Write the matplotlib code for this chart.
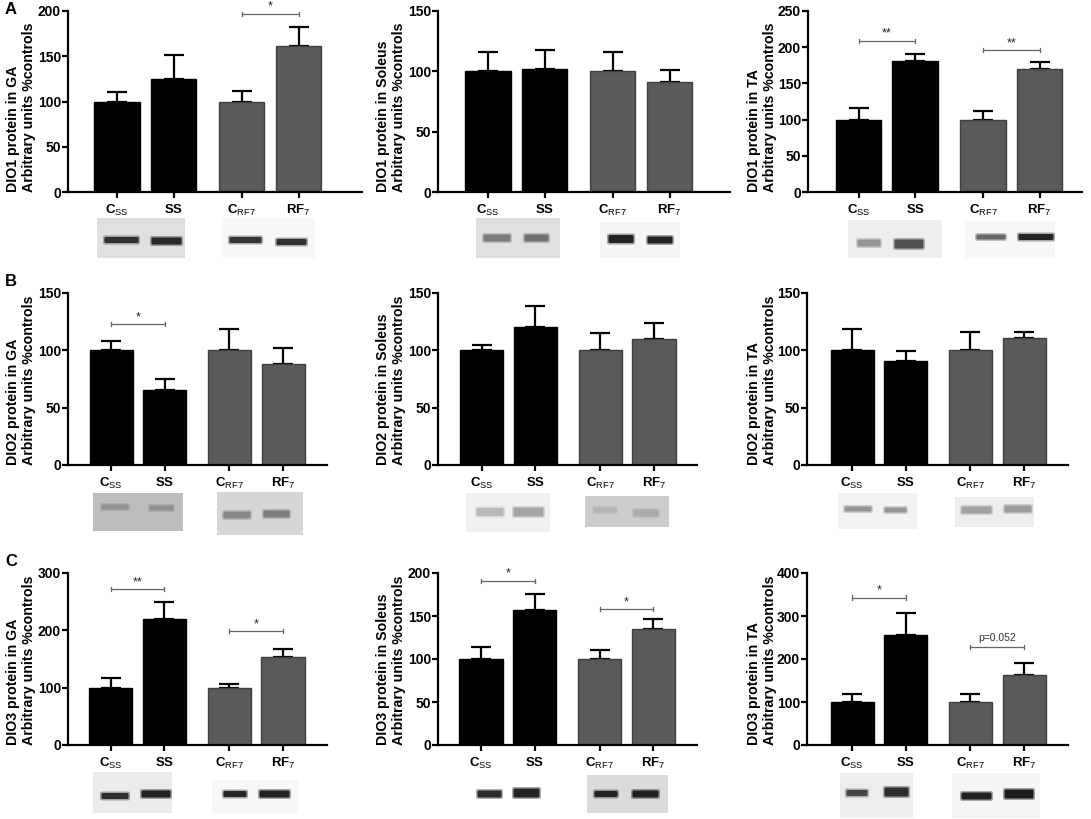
import matplotlib
matplotlib.use("Agg")
import matplotlib.pyplot as plt
from matplotlib.patches import Rectangle, FancyBboxPatch

plt.rcParams['font.family'] = ['Liberation Sans', 'DejaVu Sans']
plt.rcParams['mathtext.fontset'] = 'custom'
plt.rcParams['mathtext.rm'] = 'Liberation Sans'
plt.rcParams['mathtext.bf'] = 'Liberation Sans:bold'
plt.rcParams['mathtext.it'] = 'Liberation Sans:italic'

# ---------------- data ----------------
groups = ["Css", "SS", "CRF7", "RF7"]
tick_labels = [r"$\mathbf{C}_{\mathrm{SS}}$", r"$\mathbf{SS}$",
               r"$\mathbf{C}_{\mathrm{RF7}}$", r"$\mathbf{RF}_{\mathrm{7}}$"]

ylabels = [
    "DIO1 protein in GA", "DIO1 protein in Soleus", "DIO1 protein in TA",
    "DIO2 protein in GA", "DIO2 protein in Soleus", "DIO2 protein in TA",
    "DIO3 protein in GA", "DIO3 protein in Soleus", "DIO3 protein in TA",
]
ymax = [200, 150, 250, 150, 150, 150, 300, 200, 400]
ystep = [50, 50, 50, 50, 50, 50, 100, 50, 100]

# means (% of control)
dio1_ga = [100, 125, 100, 161]
dio1_sol = [100, 102, 100, 91]
dio1_ta = [100, 181, 100, 170]
dio2_ga = [100, 65, 100, 88]
dio2_sol = [100, 120, 100, 110]
dio2_ta = [100, 91, 100, 111]
dio3_ga = [100, 219, 100, 153]
dio3_sol = [100, 157, 100, 135]
dio3_ta = [100, 256, 100, 162]

# upper end of error bar (mean + SEM)
dio1_ga_top = [110, 151, 112, 182]
dio1_sol_top = [116, 118, 116, 101]
dio1_ta_top = [116, 191, 112, 179]
dio2_ga_top = [108, 75, 119, 102]
dio2_sol_top = [105, 139, 115, 124]
dio2_ta_top = [119, 99, 116, 116]
dio3_ga_top = [117, 250, 106, 168]
dio3_sol_top = [114, 176, 110, 146]
dio3_ta_top = [119, 308, 119, 191]

means = [dio1_ga, dio1_sol, dio1_ta, dio2_ga, dio2_sol, dio2_ta, dio3_ga, dio3_sol, dio3_ta]
tops = [dio1_ga_top, dio1_sol_top, dio1_ta_top, dio2_ga_top, dio2_sol_top, dio2_ta_top,
        dio3_ga_top, dio3_sol_top, dio3_ta_top]

# significance annotations: (panel, from group, to group, height, label)
sig_panel = [0, 2, 2, 3, 6, 6, 7, 7, 8, 8]
sig_from = [2, 0, 2, 0, 0, 2, 0, 2, 0, 2]
sig_to = [3, 1, 3, 1, 1, 3, 1, 3, 1, 3]
sig_y = [197, 209, 196, 123, 272, 199, 191, 158, 343, 228]
sig_text = ["*", "**", "**", "*", "**", "*", "*", "*", "*", "p=0.052"]

# ---------------- layout (pixels) ----------------
W, H = 1091, 819
# left, right, top(ymax), bottom(0) of each axes, and first / last bar centre
layout = [
    (68, 362, 11, 192, 117, 298.5),
    (438, 730, 11, 192, 488, 669.5),
    (808, 1082, 11, 192, 858.5, 1039.5),
    (68, 327, 293, 465, 111, 283),
    (438, 697, 293, 465, 481.5, 654),
    (807, 1068, 293, 465, 852, 1024),
    (68, 327, 573, 745, 110.5, 283),
    (438, 697, 573, 745, 481, 653.5),
    (807, 1068, 573, 745, 852, 1024),
]
label_x = [21, 391, 762] * 3
xpos = [0, 1, 2.2, 3.2]
colors = ["#000000", "#000000", "#5a5a5a", "#5a5a5a"]
edges = ["#000000", "#000000", "#404040", "#404040"]

fig = plt.figure(figsize=(W / 100, H / 100), dpi=100)

# overlay for blots
over = fig.add_axes([0, 0, 1, 1], zorder=0)
over.set_xlim(0, W)
over.set_ylim(H, 0)
over.axis("off")

# blot specs: (x0, x1, y0, y1, background grey, [(lane x0, lane x1, band y, band h, band grey)])
blots = [
    (97, 185, 218, 258, 0.88, [(103, 140, 240, 5, 0.12), (150, 183, 241, 6, 0.08)]),
    (222, 315, 218, 258, 0.97, [(228, 263, 240, 5, 0.12), (275, 308, 242, 5, 0.10)]),
    (476, 560, 218, 258, 0.88, [(482, 512, 238, 6, 0.45), (523, 550, 238, 6, 0.40)]),
    (600, 680, 222, 258, 0.96, [(607, 635, 239, 7, 0.05), (646, 674, 240, 6, 0.06)]),
    (848, 942, 220, 258, 0.93, [(856, 882, 243, 6, 0.55), (893, 925, 244, 8, 0.25)]),
    (965, 1055, 221, 258, 0.97, [(975, 1007, 237, 4, 0.35), (1017, 1055, 237, 5, 0.05)]),
    (93, 183, 493, 531, 0.74, [(100, 130, 507, 4, 0.55), (148, 175, 508, 4, 0.55)]),
    (217, 303, 492, 535, 0.84, [(222, 252, 515, 6, 0.50), (262, 291, 514, 6, 0.45)]),
    (466, 550, 493, 532, 0.94, [(475, 505, 512, 7, 0.70), (512, 545, 512, 8, 0.62)]),
    (585, 669, 496, 527, 0.80, [(592, 618, 510, 5, 0.70), (632, 660, 513, 6, 0.66)]),
    (838, 917, 493, 529, 0.95, [(843, 873, 509, 4, 0.55), (883, 908, 510, 4, 0.55)]),
    (955, 1034, 497, 527, 0.93, [(960, 993, 510, 6, 0.60), (1003, 1033, 509, 6, 0.58)]),
    (93, 172, 772, 813, 0.92, [(100, 130, 796, 5, 0.10), (140, 172, 794, 6, 0.05)]),
    (212, 298, 780, 813, 0.97, [(222, 248, 794, 5, 0.06), (258, 291, 794, 6, 0.04)]),
    (470, 545, 785, 805, 1.00, [(476, 503, 794, 6, 0.08), (512, 541, 793, 8, 0.05)]),
    (587, 668, 775, 813, 0.86, [(593, 619, 794, 5, 0.05), (631, 660, 794, 6, 0.04)]),
    (840, 913, 773, 818, 0.93, [(845, 869, 793, 5, 0.20), (883, 910, 792, 8, 0.10)]),
    (952, 1040, 773, 818, 0.96, [(960, 993, 796, 6, 0.04), (1003, 1035, 794, 8, 0.02)]),
]
for x0, x1, y0, y1, bg, bands in blots:
    over.add_patch(Rectangle((x0, y0), x1 - x0, y1 - y0, facecolor=str(bg), edgecolor="none"))
    for lx0, lx1, yc, bh, g in bands:
        # soft halo then core band
        over.add_patch(FancyBboxPatch((lx0 + 1, yc - bh / 2 - 1), lx1 - lx0 - 2, bh + 2,
                                      boxstyle="round,pad=1,rounding_size=2",
                                      facecolor=str(g), edgecolor="none", alpha=0.35))
        over.add_patch(FancyBboxPatch((lx0 + 2, yc - bh / 2), lx1 - lx0 - 4, bh,
                                      boxstyle="round,pad=0.5,rounding_size=1.5",
                                      facecolor=str(g), edgecolor="none", alpha=0.85))

axes = []
for i in range(9):
    left, right, top, bottom, c0, c3 = layout[i]
    ax = fig.add_axes([left / W, 1 - bottom / H, (right - left) / W, (bottom - top) / H], zorder=2)
    ax.patch.set_alpha(0)
    unit = (c3 - c0) / 3.2
    ax.set_xlim((left - c0) / unit, (right - c0) / unit)
    ax.set_ylim(0, ymax[i])
    m = means[i]
    err = [t - v for t, v in zip(tops[i], m)]
    ax.bar(xpos, m, width=0.8, color=colors, edgecolor=edges, linewidth=1.0, zorder=2)
    for k in range(4):
        ax.errorbar(xpos[k], m[k], yerr=[[0], [err[k]]], fmt="none", ecolor="black",
                    elinewidth=1.6, capsize=7.2, capthick=1.6, zorder=1)
    ax.set_xticks(xpos)
    ax.set_xticklabels(tick_labels, fontsize=9.5)
    ax.set_yticks(range(0, ymax[i] + 1, ystep[i]))
    ax.set_yticklabels([str(v) for v in range(0, ymax[i] + 1, ystep[i])],
                       fontsize=10, fontweight="bold")
    for s in ["top", "right"]:
        ax.spines[s].set_visible(False)
    for s in ["left", "bottom"]:
        ax.spines[s].set_linewidth(1.6)
    ax.tick_params(axis="both", width=1.6, length=4, color="black")
    ax.tick_params(axis="y", pad=1)
    ax.tick_params(axis="x", pad=4)
    fig.text(label_x[i] / W, 1 - bottom / H, ylabels[i] + "\nArbitrary units %controls",
             rotation=90, ha="center", va="bottom", multialignment="left",
             fontsize=10.2, fontweight="bold", linespacing=1.15)
    axes.append(ax)

for p, a, b, yv, t in zip(sig_panel, sig_from, sig_to, sig_y, sig_text):
    ax = axes[p]
    x0, x1 = xpos[a], xpos[b]
    ax.plot([x0, x1], [yv, yv], color="#666666", lw=0.9, clip_on=False, zorder=3)
    dy = ymax[p] * 0.012
    for xx in (x0, x1):
        ax.plot([xx, xx], [yv - dy, yv + dy], color="#666666", lw=0.9, clip_on=False, zorder=3)
    if t.startswith("p"):
        ax.text((x0 + x1) / 2, yv + ymax[p] * 0.025, t, ha="center", va="bottom",
                fontsize=7.5, color="#333333")
    else:
        ax.text((x0 + x1) / 2, yv + ymax[p] * 0.005, t, ha="center", va="bottom",
                fontsize=9, color="#222222")

for letter, (lx, ly) in zip(["A", "B", "C"], [(5, 2), (5, 274), (5, 554)]):
    fig.text(lx / W, 1 - ly / H, letter, ha="left", va="top", fontsize=12, fontweight="bold")

fig.savefig("out.png", dpi=100)
